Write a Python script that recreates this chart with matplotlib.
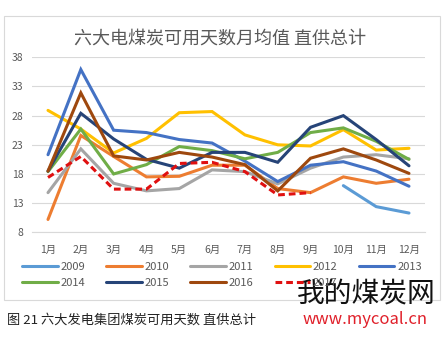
import numpy as np
import matplotlib
matplotlib.use("Agg")
import matplotlib.pyplot as plt
from matplotlib.patches import Rectangle

plt.rcParams['font.family'] = ['Noto Sans CJK SC', 'DejaVu Sans']

months = ['1月', '2月', '3月', '4月', '5月', '6月', '7月', '8月', '9月', '10月', '11月', '12月']
nan = np.nan
y2009 = [nan, nan, nan, nan, nan, nan, nan, nan, nan, 16.0, 12.4, 11.3]
y2010 = [10.2, 24.6, 21.0, 17.5, 17.6, 19.5, 19.5, 15.5, 14.8, 17.5, 16.4, 17.1]
y2011 = [14.8, 22.3, 16.4, 15.1, 15.5, 18.7, 18.4, 16.3, 19.0, 20.9, 21.3, 20.6]
y2012 = [28.9, 25.7, 21.6, 24.1, 28.5, 28.7, 24.7, 23.0, 22.8, 25.6, 22.1, 22.4]
y2013 = [21.3, 35.9, 25.5, 25.1, 23.9, 23.3, 20.2, 16.7, 19.5, 20.1, 18.5, 15.9]
y2014 = [18.4, 25.7, 18.0, 19.6, 22.7, 22.0, 20.6, 21.7, 25.1, 25.9, 23.6, 20.5]
y2015 = [18.5, 28.4, 24.0, 20.5, 19.0, 21.7, 21.7, 20.0, 26.0, 28.0, 23.9, 19.4]
y2016 = [18.5, 31.9, 21.1, 20.4, 21.7, 20.9, 19.6, 15.1, 20.7, 22.3, 20.4, 18.1]
y2017 = [17.4, 21.0, 15.4, 15.4, 19.8, 20.0, 18.4, 14.4, 14.8, nan, nan, nan]
years = ['2009', '2010', '2011', '2012', '2013', '2014', '2015', '2016', '2017']
series = [y2009, y2010, y2011, y2012, y2013, y2014, y2015, y2016, y2017]
colors = ['#5B9BD5', '#ED7D31', '#A5A5A5', '#FFC000', '#4472C4',
          '#70AD47', '#264478', '#9E480E', '#E01010']
yticks = [8, 13, 18, 23, 28, 33, 38]

W, H = 447, 340
fig = plt.figure(figsize=(W / 100, H / 100), dpi=100)
fig.patch.set_facecolor('white')

# chart border
fig.patches.append(Rectangle((4 / W, 1 - 300 / H), 436 / W, 284 / H,
                             transform=fig.transFigure, fill=False,
                             edgecolor='#D9D9D9', lw=0.8))

ax = fig.add_axes([31.6 / W, 1 - 232.3 / H, (425.4 - 31.6) / W, (232.3 - 57.3) / H])
x = np.arange(1, 13)
handles = []
for yr, s, c in zip(years, series, colors):
    ls = (0, (2.2, 1.3)) if yr == '2017' else '-'
    ln, = ax.plot(x, s, color=c, lw=2.2, ls=ls, solid_capstyle='round',
                  dash_capstyle='butt', solid_joinstyle='miter')
    handles.append(ln)

ax.set_xlim(0.5, 12.5)
ax.set_ylim(8, 38)
ax.set_yticks(yticks)
ax.set_yticklabels([str(v) for v in yticks])
ax.set_xticks(x)
ax.set_xticklabels(months)
ax.grid(axis='y', color='#D9D9D9', lw=0.8)
ax.set_axisbelow(True)
for sp in ['top', 'right', 'left']:
    ax.spines[sp].set_visible(False)
ax.spines['bottom'].set_color('#D9D9D9')
ax.spines['bottom'].set_linewidth(0.8)
ax.tick_params(axis='both', length=0, labelsize=7.5, colors='#595959')
ax.tick_params(axis='x', pad=9)
ax.tick_params(axis='y', pad=6)

fig.text(220 / W, 1 - 39 / H, '六大电煤炭可用天数月均值 直供总计', ha='center', va='center',
         fontsize=13, color='#595959')

# legend filled row-wise: 5 items in the first row, 4 in the second
order = [0, 5, 1, 6, 2, 7, 3, 8, 4]
leg = fig.legend([handles[i] for i in order], [years[i] for i in order],
                 loc='center', bbox_to_anchor=(222 / W, 1 - 275 / H),
                 ncol=5, frameon=False, fontsize=8, handlelength=3.2,
                 columnspacing=1.9, handletextpad=0.25, labelspacing=0.55,
                 labelcolor='#595959')

fig.text(7 / W, 1 - 320 / H, '图 21 六大发电集团煤炭可用天数 直供总计', ha='left', va='center',
         fontsize=9.5, color='#222222')

# watermark
fig.text(366 / W, 1 - 293 / H, '我的煤炭网', ha='center', va='center',
         fontsize=20, color='#111111')
fig.text(365 / W, 1 - 320 / H, 'www.mycoal.cn', ha='center', va='center',
         fontsize=12, color='#E0202A')

fig.savefig('out.png', dpi=100)
